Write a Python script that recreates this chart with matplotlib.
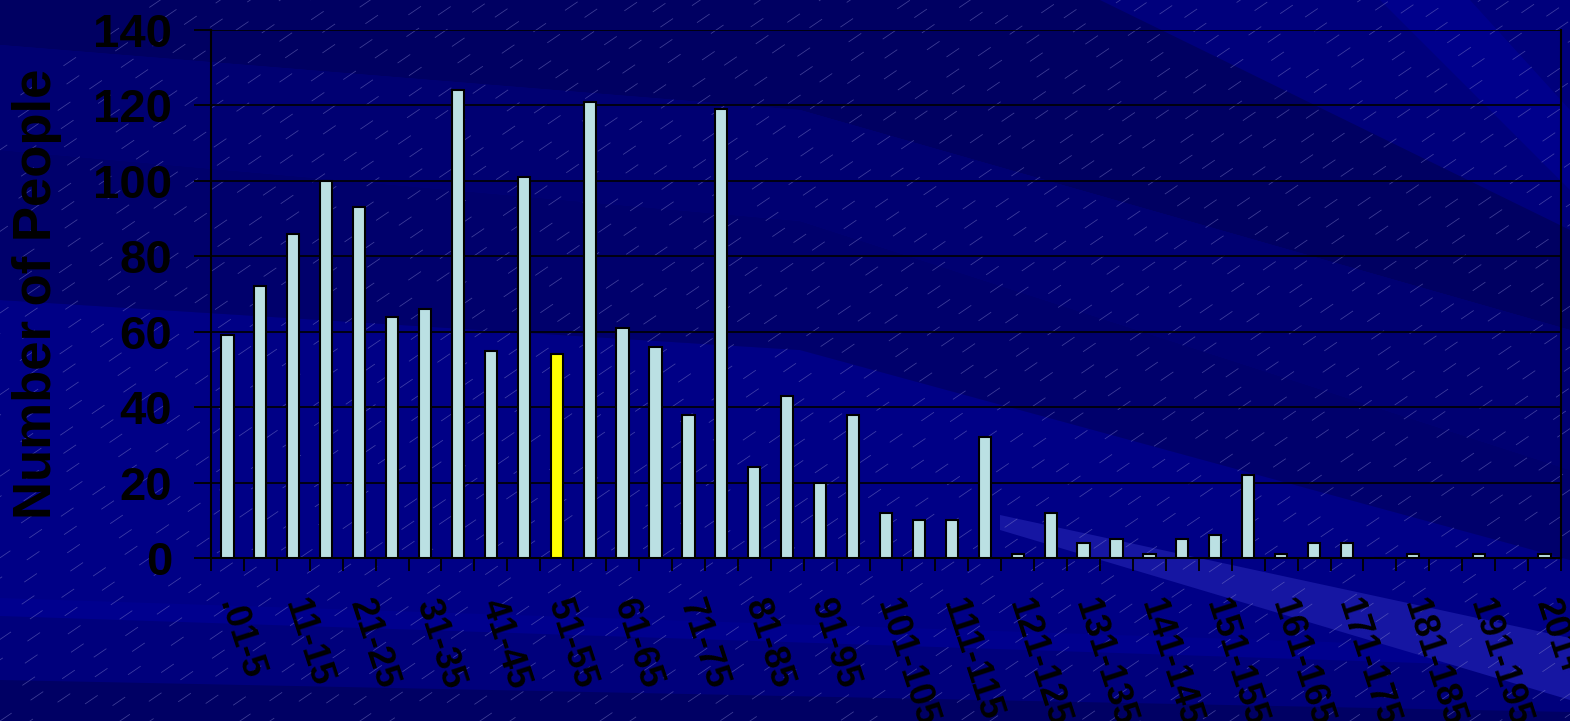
#!/usr/bin/env python
# coding=utf-8
"""
Histograma: numero de personas por rango
"""

import matplotlib
matplotlib.use('Agg')
import matplotlib.pyplot as plt
from matplotlib.patches import Polygon
import numpy as np

# Datos
categorias = ['.01-5', '6-10', '11-15', '16-20', '21-25', '26-30', '31-35', '36-40',
              '41-45', '46-50', '51-55', '56-60', '61-65', '66-70', '71-75', '76-80',
              '81-85', '86-90', '91-95', '96-100', '101-105', '106-110', '111-115',
              '116-120', '121-125', '126-130', '131-135', '136-140', '141-145',
              '146-150', '151-155', '156-160', '161-165', '166-170', '171-175',
              '176-180', '181-185', '186-190', '191-195', '196-200', '201+']
personas = [59, 72, 86, 100, 93, 64, 66, 124, 55, 101,
            54, 121, 61, 56, 38, 119, 24, 43, 20, 38,
            12, 10, 10, 32, 1, 12, 4, 5, 1, 5,
            6, 22, 1, 4, 4, 0, 1, 0, 1, 0, 1]
destacado = '51-55'
yticks = [0, 20, 40, 60, 80, 100, 120, 140]

W, H = 1570, 721
plt.rcParams['font.family'] = ['Liberation Sans', 'DejaVu Sans']
plt.rcParams['font.weight'] = 'bold'

fig = plt.figure(figsize=(W / 100.0, H / 100.0), dpi=100)
fig.patch.set_facecolor('#00007c')

# fondo decorativo (coordenadas en pixeles)
bg = fig.add_axes([0, 0, 1, 1], zorder=0)
bg.set_xlim(0, W)
bg.set_ylim(H, 0)
bg.axis('off')
bandas = [
    ('#000086', [(0, 300), (800, 350), (1570, 560), (1570, 650), (0, 600)]),
    ('#000062', [(0, 0), (1100, 0), (1570, 230), (1570, 330), (800, 110), (0, 45)]),
    ('#00006c', [(0, 150), (800, 221), (1570, 470), (1570, 560), (800, 350), (0, 300)]),
    ('#000072', [(0, 45), (800, 110), (1570, 330), (1570, 470), (800, 221), (0, 150)]),
    ('#00008c', [(1380, 0), (1470, 0), (1570, 110), (1570, 190)]),
    ('#00008e', [(0, 598), (1570, 650), (1570, 668), (0, 616)]),
    ('#1616a2', [(1000, 515), (1570, 638), (1570, 700), (1000, 530)]),
    ('#000064', [(0, 680), (1570, 712), (1570, H), (0, H)]),
]
for col, pts in bandas:
    bg.add_patch(Polygon(pts, closed=True, facecolor=col, edgecolor='none'))

# lineas diagonales tenues
pend = -0.68
for k in range(-30, 110):
    x0 = k * 30.0
    xs = np.array([x0 - 1200, x0 + 1200])
    ys = H + pend * (xs - x0)
    bg.plot(xs, ys, color='#8080cc', lw=0.55, alpha=0.5,
            linestyle=(k * 13 % 53, (20, 30 + (k % 4) * 9)))

# grafico
ax = fig.add_axes([211.0 / W, 1 - 558.0 / H, 1350.0 / W, 528.0 / H], zorder=1)
ax.patch.set_alpha(0)

x = np.arange(len(categorias))
colores = ['#ffff00' if c == destacado else '#bbe0e3' for c in categorias]
ax.bar(x, personas, width=0.37, color=colores, edgecolor='black', linewidth=1.5, zorder=3)

ax.set_xlim(-0.5, len(categorias) - 0.5)
ax.set_ylim(0, 140)
ax.set_yticks(yticks)
ax.set_yticklabels([str(v) for v in yticks])
ax.yaxis.grid(True, color='black', linewidth=1.2, zorder=1)
ax.set_axisbelow(True)

for s in ['left', 'right', 'bottom']:
    ax.spines[s].set_color('black')
    ax.spines[s].set_linewidth(1.5)
ax.spines['top'].set_visible(False)

ax.tick_params(axis='y', length=12, width=1.3, pad=16, labelsize=34, colors='black')

ax.set_xticks(np.arange(-0.5, len(categorias), 1), minor=True)
ax.set_xticks(x[::2])
ax.set_xticklabels(categorias[::2], rotation=-72, ha='left', va='center',
                   rotation_mode='anchor', fontsize=26, fontweight='bold')
ax.tick_params(axis='x', which='major', length=0, pad=30)
ax.tick_params(axis='x', which='minor', length=9, width=1.3, color='black')

fig.text(37.0 / W, 1 - 294.0 / H, 'Number of People', rotation=90, ha='center',
         va='center', fontsize=38, fontweight='bold', color='black')

fig.savefig('out.png', dpi=100, facecolor=fig.get_facecolor())
